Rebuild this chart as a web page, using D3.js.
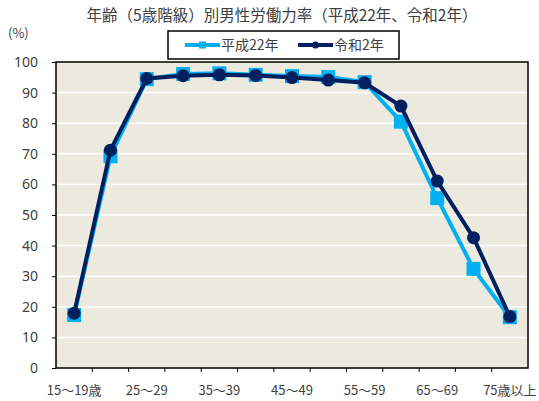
<!DOCTYPE html>
<html>
<head>
<meta charset="utf-8">
<script src="https://cdn.jsdelivr.net/npm/d3@7"></script>
<style>
  body { margin: 0; background: #fff; }
  text { font-family: "Noto Sans CJK JP", "Noto Sans", sans-serif; fill: #404040; }
</style>
</head>
<body>
<svg id="chart"></svg>
<script>
"use strict";

const ageGroups = ["15～19歳", "20～24", "25～29", "30～34", "35～39", "40～44", "45～49",
    "50～54", "55～59", "60～64", "65～69", "70～74", "75歳以上"];
const h22Values = [17.3, 69.2, 94.4, 96.1, 96.3, 95.8, 95.4, 95.1, 93.4, 80.5, 55.5, 32.4, 16.6];
const r2Values = [17.9, 71.2, 94.6, 95.5, 95.8, 95.6, 94.9, 94.1, 93.2, 85.6, 61.1, 42.6, 16.8];
const yTicks = [0, 10, 20, 30, 40, 50, 60, 70, 80, 90, 100];

const width = 539, height = 401;
const plot = {left: 56, right: 528, top: 62, bottom: 368};

const svg = d3.select("#chart").attr("width", width).attr("height", height);

const x = d3.scaleBand().domain(ageGroups).range([plot.left, plot.right]).padding(0);
const y = d3.scaleLinear().domain([0, 100]).range([plot.bottom, plot.top]);

// plot background
svg.append("rect")
    .attr("x", plot.left).attr("y", plot.top)
    .attr("width", plot.right - plot.left).attr("height", plot.bottom - plot.top)
    .attr("fill", "#ECE9DF");

// gridlines
svg.append("g").selectAll("line")
    .data(yTicks.filter(d => d > 0 && d < 100))
    .enter().append("line")
    .attr("x1", plot.left).attr("x2", plot.right)
    .attr("y1", d => y(d)).attr("y2", d => y(d))
    .attr("stroke", "#fff").attr("stroke-width", 1.5);

// y axis
const yAxis = svg.append("g")
    .attr("transform", `translate(${plot.left},0)`)
    .call(d3.axisLeft(y).tickValues(yTicks).tickSize(4).tickPadding(14));
yAxis.select(".domain").remove();
yAxis.selectAll(".tick line").attr("stroke", "#000");
yAxis.selectAll(".tick text").attr("font-size", 14).style("font-family", "'Noto Sans', sans-serif");

// x axis ticks at category boundaries
const boundaries = ageGroups.slice(1).map(d => x(d));
svg.append("g").selectAll("line")
    .data(boundaries)
    .enter().append("line")
    .attr("x1", d => d).attr("x2", d => d)
    .attr("y1", plot.bottom).attr("y2", plot.bottom + 4)
    .attr("stroke", "#000");

svg.append("g").selectAll("text")
    .data(ageGroups.filter((d, i) => i % 2 === 0))
    .enter().append("text")
    .attr("x", d => x(d) + x.bandwidth() / 2)
    .attr("y", 395)
    .attr("text-anchor", "middle")
    .attr("font-size", 13)
    .text(d => d);

// plot border
svg.append("rect")
    .attr("x", plot.left).attr("y", plot.top)
    .attr("width", plot.right - plot.left).attr("height", plot.bottom - plot.top)
    .attr("fill", "none").attr("stroke", "#000").attr("stroke-width", 1.5);

const line = d3.line()
    .x((d, i) => x(ageGroups[i]) + x.bandwidth() / 2)
    .y(d => y(d));

// 平成22年
svg.append("path").datum(h22Values)
    .attr("d", line).attr("fill", "none")
    .attr("stroke", "#00B0F0").attr("stroke-width", 4);
svg.append("g").selectAll("rect")
    .data(h22Values)
    .enter().append("rect")
    .attr("x", (d, i) => x(ageGroups[i]) + x.bandwidth() / 2 - 7)
    .attr("y", d => y(d) - 7)
    .attr("width", 14).attr("height", 14)
    .attr("fill", "#00B0F0");

// 令和2年
svg.append("path").datum(r2Values)
    .attr("d", line).attr("fill", "none")
    .attr("stroke", "#002060").attr("stroke-width", 4);
svg.append("g").selectAll("circle")
    .data(r2Values)
    .enter().append("circle")
    .attr("cx", (d, i) => x(ageGroups[i]) + x.bandwidth() / 2)
    .attr("cy", d => y(d))
    .attr("r", 6.5)
    .attr("fill", "#002060");

// title
svg.append("text")
    .attr("x", 282).attr("y", 21)
    .attr("text-anchor", "middle")
    .attr("font-size", 15.5)
    .text("年齢（5歳階級）別男性労働力率（平成22年、令和2年）");

svg.append("text")
    .attr("x", 8).attr("y", 38)
    .attr("font-size", 13)
    .text("(%)");

// legend
const legend = svg.append("g");
legend.append("rect")
    .attr("x", 168).attr("y", 31).attr("width", 231).attr("height", 28)
    .attr("fill", "#fff").attr("stroke", "#000").attr("stroke-width", 1.5);

const legendItems = [
    {name: "平成22年", color: "#00B0F0", shape: "square", x0: 185},
    {name: "令和2年", color: "#002060", shape: "circle", x0: 298}
];
legendItems.forEach(item => {
    legend.append("line")
        .attr("x1", item.x0).attr("x2", item.x0 + 35)
        .attr("y1", 45).attr("y2", 45)
        .attr("stroke", item.color).attr("stroke-width", 4);
    if (item.shape === "square") {
        legend.append("rect")
            .attr("x", item.x0 + 17.5 - 3.5).attr("y", 41.5)
            .attr("width", 7).attr("height", 7).attr("fill", item.color);
    } else {
        legend.append("circle")
            .attr("cx", item.x0 + 17.5).attr("cy", 45).attr("r", 3.5)
            .attr("fill", item.color);
    }
    legend.append("text")
        .attr("x", item.x0 + 36).attr("y", 50)
        .attr("font-size", 14)
        .text(item.name);
});
</script>
</body>
</html>
